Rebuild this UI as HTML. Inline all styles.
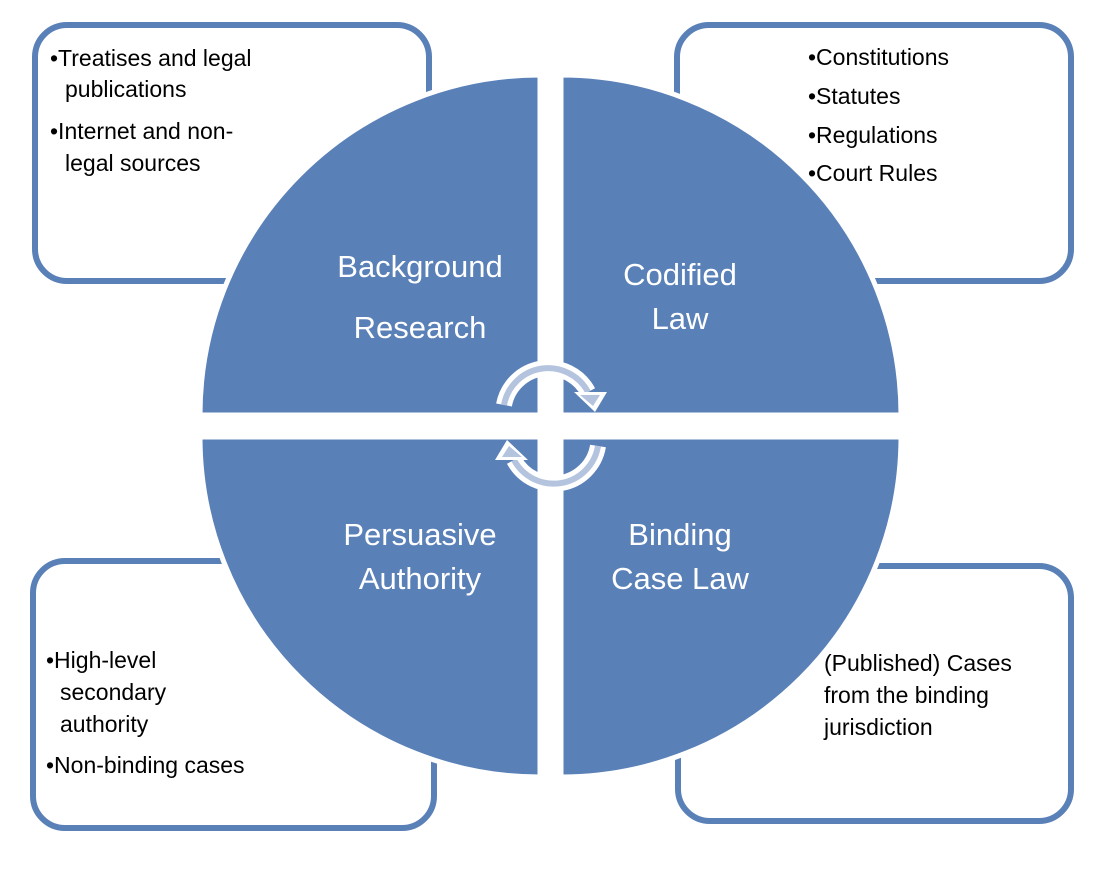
<!DOCTYPE html>
<html><head><meta charset="utf-8"><style>
html,body{margin:0;padding:0;background:#fff;}
svg{display:block;font-family:"Liberation Sans",sans-serif;}
</style></head><body>
<svg width="1108" height="872" viewBox="0 0 1108 872" xmlns="http://www.w3.org/2000/svg">
<g fill="#fff" stroke="#5a80b8" stroke-width="6">
<rect x="35" y="25" width="394" height="256" rx="32"/>
<rect x="677" y="25" width="394" height="256" rx="32"/>
<rect x="33" y="561" width="401" height="267" rx="32"/>
<rect x="678" y="566" width="393" height="255" rx="32"/>
</g>
<g fill="#5a80b8" stroke="#fff" stroke-width="5">
<path d="M540,415 L200,415 A340,340 0 0 1 540,75 Z"/>
<path d="M561,415 L561,75 A340,340 0 0 1 901,415 Z"/>
<path d="M540,437 L540,777 A340,340 0 0 1 200,437 Z"/>
<path d="M561,437 L901,437 A340,340 0 0 1 561,777 Z"/>
</g>
<g fill="#fff" font-size="31" text-anchor="middle">
<text x="420" y="277">Background</text>
<text x="420" y="338">Research</text>
<text x="680" y="285">Codified</text>
<text x="680" y="329">Law</text>
<text x="420" y="545">Persuasive</text>
<text x="420" y="589">Authority</text>
<text x="680" y="545">Binding</text>
<text x="680" y="589">Case Law</text>
</g>
<g fill="#000" font-size="23">
<text x="50" y="66">•Treatises and legal</text>
<text x="65" y="97">publications</text>
<text x="50" y="139">•Internet and non-</text>
<text x="65" y="171">legal sources</text>
<text x="808" y="65">•Constitutions</text>
<text x="808" y="104">•Statutes</text>
<text x="808" y="143">•Regulations</text>
<text x="808" y="181">•Court Rules</text>
<text x="46" y="668">•High-level</text>
<text x="60" y="700">secondary</text>
<text x="60" y="732">authority</text>
<text x="46" y="773">•Non-binding cases</text>
<text x="824" y="671">(Published) Cases</text>
<text x="824" y="703">from the binding</text>
<text x="824" y="735">jurisdiction</text>
</g>
<g fill="none" stroke-linecap="butt">
<path d="M504,405 A45,45 0 0 1 588,392" stroke="#fff" stroke-width="16"/>
<path d="M504,405 A45,45 0 0 1 588,392" stroke="#b4c3de" stroke-width="6"/>
<path d="M598,446 A45,45 0 0 1 514,460" stroke="#fff" stroke-width="16"/>
<path d="M598,446 A45,45 0 0 1 514,460" stroke="#b4c3de" stroke-width="6"/>
</g>
<polygon points="574,392 607,392 595,412" fill="#fff"/>
<polygon points="580,395 600,395 593,406" fill="#b4c3de"/>
<polygon points="528,460 495,460 507,440" fill="#fff"/>
<polygon points="522,457 502,457 509,446" fill="#b4c3de"/>
</svg>
</body></html>
